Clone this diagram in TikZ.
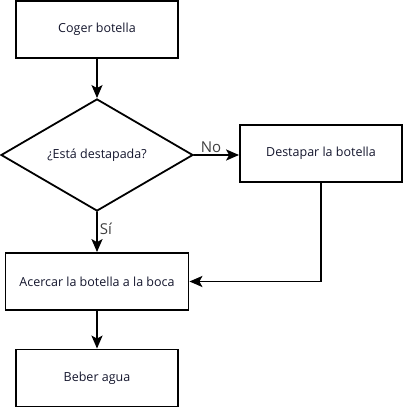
\documentclass[tikz,border=0pt]{standalone}
\usepackage{fontspec}
\setmainfont{Open Sans}
\usetikzlibrary{shapes.geometric,arrows.meta}

\begin{document}
\begin{tikzpicture}[x=1pt,y=1pt,line cap=round,
    caja/.style={draw,line width=1.8pt,minimum width=162pt,minimum height=57pt,inner sep=0pt,font=\fontsize{12.5}{14}\selectfont,text={rgb,255:red,20;green,22;blue,45}},
    rombo/.style={draw,diamond,line width=1.8pt,minimum width=192pt,minimum height=110pt,inner sep=0pt,font=\fontsize{12.5}{14}\selectfont,text={rgb,255:red,20;green,22;blue,45}},
    flecha/.style={-{Stealth[length=13pt,width=11pt,inset=3pt]},line width=1.8pt},
    etiq/.style={font=\fontsize{15}{17}\selectfont,text=black!75}]
        \useasboundingbox (0,0) rectangle (404,408);
        \node[caja] (coger) at (97,378.5) {Coger botella};     %inicio
        \node[rombo] (pregunta) at (97,253) {¿Está destapada?};
        \node[caja] (destapar) at (321,254.5) {Destapar la botella};
        \node[caja,minimum width=183pt] (acercar) at (97,126.5) {Acercar la botella a la boca};
        \node[caja] (beber) at (97,30) {Beber agua};            %fin
        \coordinate (esquina) at (destapar.south |- acercar.east);
        \draw[flecha] (coger) -- (pregunta);
        \draw[flecha] (pregunta.east) -- (pregunta.east -| destapar.west) node[etiq,pos=0.38,above,inner sep=1pt] {No};
        \draw[flecha] (pregunta) -- (acercar) node[etiq,pos=0.42,right,inner sep=2pt] {Sí};
        \draw[flecha] (destapar.south) -- (esquina) -- (acercar.east);
        \draw[flecha] (acercar) -- (beber);
    \end{tikzpicture}
\end{document}
